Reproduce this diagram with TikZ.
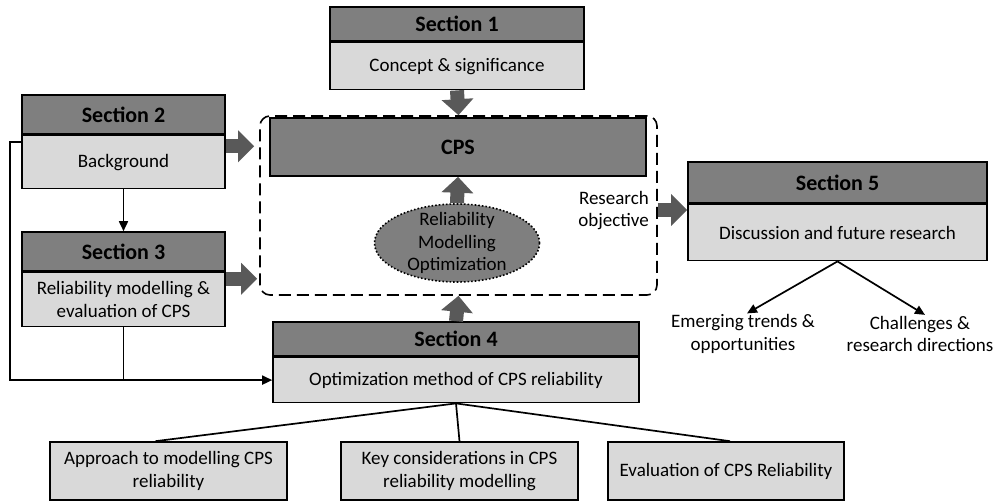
\documentclass[tikz,border=0pt]{standalone}
\usepackage{fontspec}
\setmainfont{Carlito}
\usetikzlibrary{positioning,arrows.meta,shapes.geometric}

\definecolor{headgray}{HTML}{7F7F7F}
\definecolor{bodygray}{HTML}{D9D9D9}
\definecolor{arrowgray}{HTML}{595959}

\tikzset{
  headbox/.style={draw, line width=1.6pt, fill=headgray, inner sep=0pt,
    font=\fontsize{22}{26}\selectfont\bfseries},
  bodybox/.style={draw, line width=1.6pt, fill=bodygray, inner sep=0pt, align=center,
    font=\fontsize{19}{22.5}\selectfont},
  plaintext/.style={inner sep=1pt, align=center, font=\fontsize{19}{22.5}\selectfont},
  fat/.style={line width=14pt, draw=arrowgray, -{Triangle[length=16pt,width=31pt]}},
  thinarrow/.style={line width=1.7pt, -{Triangle[length=10pt,width=9pt]}},
  thinline/.style={line width=1.7pt}
}

\begin{document}
\begin{tikzpicture}[x=1pt,y=-1pt]
  \useasboundingbox (0,0) rectangle (997,502);

  % Dashed frame round CPS
  \node[draw, line width=1.6pt, dash pattern=on 12pt off 6pt, rounded corners=10pt,
    minimum width=397pt, minimum height=179pt] (frame) at (458.5,205.5) {};

  % CPS block
  \node[headbox, minimum width=376pt, minimum height=58pt] (cps) at (458,147) {CPS};

  % Reliability ellipse
  \node[ellipse, draw, dotted, line width=1.6pt, fill=headgray,
    minimum width=165pt, minimum height=78pt,
    label={[plaintext]center:Reliability\\Modelling\\Optimization}] (rmo) at (457,243) {};

  % Section 1
  \node[headbox, minimum width=254pt, minimum height=34pt] (s1head) at (457,24) {Section 1};
  \node[bodybox, minimum width=254pt, minimum height=47pt, below=0pt of s1head] (s1body) {Concept \& significance};

  % Section 2
  \node[headbox, minimum width=203pt, minimum height=39pt] (s2head) at (123.5,114.5) {Section 2};
  \node[bodybox, minimum width=203pt, minimum height=53pt, below=0pt of s2head] (s2body) {Background};

  % Section 3
  \node[headbox, minimum width=203pt, minimum height=39pt] (s3head) at (123.5,251.5) {Section 3};
  \node[bodybox, minimum width=203pt, minimum height=54pt, below=0pt of s3head] (s3body) {Reliability modelling \&\\evaluation of CPS};

  % Section 4
  \node[headbox, minimum width=366pt, minimum height=34pt] (s4head) at (456,339) {Section 4};
  \node[bodybox, minimum width=366pt, minimum height=45pt, below=0pt of s4head] (s4body) {Optimization method of CPS reliability};

  % Section 5
  \node[headbox, minimum width=299pt, minimum height=41pt] (s5head) at (837.5,182.5) {Section 5};
  \node[bodybox, minimum width=299pt, minimum height=56pt, below=0pt of s5head] (s5body) {Discussion and future research};

  % Sub-topics of section 4
  \node[bodybox, minimum width=237pt, minimum height=58pt] (boxa) at (168.5,471) {Approach to modelling CPS\\reliability};
  \node[bodybox, minimum width=237pt, minimum height=58pt] (boxb) at (459.5,471) {Key considerations in CPS\\reliability modelling};
  \node[bodybox, minimum width=236pt, minimum height=58pt] (boxc) at (726,471) {Evaluation of CPS Reliability};

  % Sub-topics of section 5
  \node[plaintext] (emerg) at (743,334) {Emerging trends \&\\opportunities};
  \node[plaintext] (chall) at (920,334) {Challenges \&\\research directions};

  % Research objective label
  \node[plaintext, align=right, anchor=east] (robj) at (650,210.5) {Research\\objective};

  % Wide arrows
  \draw[fat] (s1body.south) -- (frame.north);
  \draw[fat] (rmo.north) -- (cps.south);
  \draw[fat] (s4head.north) -- (frame.south);
  \draw[fat, shorten >=5pt] ([yshift=-11.5pt]s2body.north east) -- ([yshift=-11.5pt]s2body.north east -| frame.west);
  \draw[fat, shorten >=2pt] ([yshift=-7pt]s3body.north east) -- ([yshift=-7pt]s3body.north east -| frame.west);
  \draw[fat] ([yshift=-4.5pt]frame.east) -- ([yshift=-4.5pt]frame.east -| s5body.west);

  % Thin connectors
  \coordinate (loop) at (10,380);
  \draw[thinarrow] (s2body.south) -- (s3head.north);
  \draw[thinarrow] ([yshift=-7pt]s2body.north west) -| (loop |- s4body.west) -- (s4body.west);
  \draw[thinline] (s3body.south) -- (s3body.south |- s4body.west);
  \draw[thinline] (s4body.south) -- ([xshift=-13pt]boxa.north);
  \draw[thinline] (s4body.south) -- (boxb.north);
  \draw[thinline] (s4body.south) -- ([xshift=4pt]boxc.north);
  \draw[thinarrow] (s5body.south) -- ([xshift=4pt]emerg.north);
  \draw[thinarrow] (s5body.south) -- ([xshift=5pt]chall.north);
\end{tikzpicture}
\end{document}
